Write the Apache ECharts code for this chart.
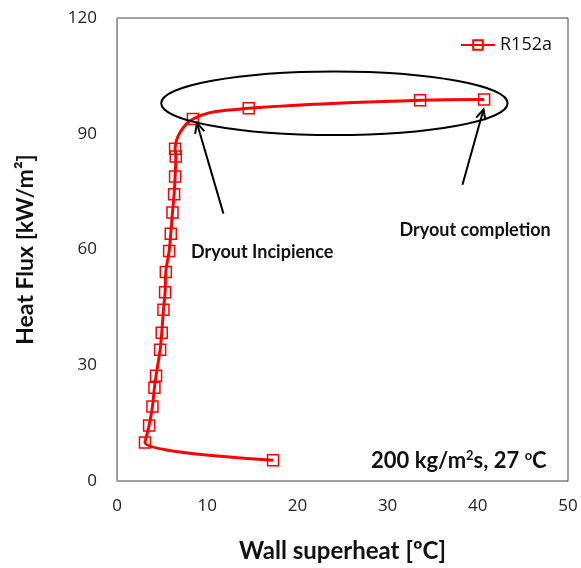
<!DOCTYPE html>
<html>
<head>
<meta charset="utf-8">
<script src="https://cdn.jsdelivr.net/npm/echarts@6/dist/echarts.min.js"></script>
<style>html,body{margin:0;padding:0;background:#fff;}#c{width:581px;height:568px;}</style>
</head>
<body>
<div id="c"></div>
<script>
// Data (wall superheat [°C], heat flux [kW/m2]) in measurement order
var superheat = [17.3, 3.1, 3.56, 3.93, 4.15, 4.33, 4.78, 4.96, 5.15, 5.33, 5.41, 5.78, 5.96, 6.15, 6.33, 6.44, 6.52, 6.44, 8.41, 14.6, 33.6, 40.7];
var heatFlux  = [5.4, 10.0, 14.4, 19.3, 24.2, 27.3, 34.0, 38.4, 44.4, 48.9, 54.2, 59.6, 64.1, 69.6, 74.3, 78.9, 84.1, 86.1, 93.8, 96.6, 98.7, 98.9];
var seriesName = 'R152a';
var xTicks = [0, 10, 20, 30, 40, 50];
var yTicks = [0, 30, 60, 90, 120];

// Annotations (in data coordinates)
var ellipseCenter = [24.1, 97.9];
var ellipseRadii = [19.2, 8.25];
var arrowIncipience = {from: [11.8, 69.3], to: [8.86, 92.8]};
var arrowCompletion = {from: [38.3, 76.8], to: [40.63, 96.3]};
var labelIncipience = {text: 'Dryout Incipience', at: [16.1, 59.4]};
var labelCompletion = {text: 'Dryout completion', at: [39.7, 65.0]};
var labelCondition = {at: [37.9, 5.2]};

var data = superheat.map(function (x, i) { return [x, heatFlux[i]]; });

var chart = echarts.init(document.getElementById('c'));
var font = 'Lato, "Open Sans", sans-serif';
var tickFont = '"Open Sans", Lato, sans-serif';

chart.setOption({
  animation: false,
  backgroundColor: '#fff',
  grid: {left: 117, right: 13, top: 18, bottom: 86, show: true, borderColor: '#444', borderWidth: 1},
  legend: {
    show: true, right: 24, top: 31, itemWidth: 34, itemHeight: 12, itemGap: 4,
    textStyle: {fontFamily: tickFont, fontSize: 18, color: '#111'},
    data: [{name: seriesName}]
  },
  xAxis: {
    type: 'value', min: xTicks[0], max: xTicks[xTicks.length - 1], interval: 10,
    name: 'Wall superheat [\u00baC]', nameLocation: 'middle', nameGap: 58,
    nameTextStyle: {fontFamily: font, fontSize: 24, fontWeight: 'bold', color: '#111'},
    axisLine: {show: true, onZero: false, lineStyle: {color: '#999', width: 1}},
    axisTick: {show: false},
    splitLine: {show: false},
    axisLabel: {fontFamily: tickFont, fontSize: 17, color: '#222', margin: 17}
  },
  yAxis: {
    type: 'value', min: yTicks[0], max: yTicks[yTicks.length - 1], interval: 30,
    name: 'Heat Flux [kW/m\u00b2]', nameLocation: 'middle', nameGap: 80, nameRotate: 90,
    nameTextStyle: {fontFamily: font, fontSize: 23, fontWeight: 'bold', color: '#111'},
    axisLine: {show: true, onZero: false, lineStyle: {color: '#999', width: 1}},
    axisTick: {show: false},
    splitLine: {show: false},
    axisLabel: {fontFamily: tickFont, fontSize: 17, color: '#222', margin: 20}
  },
  series: [{
    name: seriesName,
    type: 'line',
    data: data,
    smooth: 0.35,
    symbol: 'rect',
    symbolSize: 11,
    showAllSymbol: true,
    lineStyle: {color: '#ff0000', width: 3},
    itemStyle: {color: 'rgba(255,255,255,0)', borderColor: '#ff0000', borderWidth: 1.5},
    z: 3
  }]
});

function px(p) { return chart.convertToPixel({gridIndex: 0}, p); }
function arrow(a) {
  var s = px(a.from), e = px(a.to);
  var ang = Math.atan2(e[1] - s[1], e[0] - s[0]);
  var L = 11, w = 0.45;
  var h1 = [e[0] - L * Math.cos(ang - w), e[1] - L * Math.sin(ang - w)];
  var h2 = [e[0] - L * Math.cos(ang + w), e[1] - L * Math.sin(ang + w)];
  return [
    {type: 'line', shape: {x1: s[0], y1: s[1], x2: e[0], y2: e[1]}, style: {stroke: '#000', lineWidth: 2}, z: 10},
    {type: 'polyline', shape: {points: [h1, e, h2]}, style: {stroke: '#000', lineWidth: 2, fill: null}, z: 10}
  ];
}
var c = px(ellipseCenter);
var edge = px([ellipseCenter[0] + ellipseRadii[0], ellipseCenter[1] + ellipseRadii[1]]);
var rx = Math.abs(edge[0] - c[0]), ry = Math.abs(edge[1] - c[1]);
var pI = px(labelIncipience.at), pC = px(labelCompletion.at), pK = px(labelCondition.at);
var textStyle = {fontFamily: font, fontSize: 18, fontWeight: 'bold', fill: '#111', textAlign: 'center', textVerticalAlign: 'middle'};

var elements = [
  {type: 'ellipse', shape: {cx: c[0], cy: c[1], rx: rx, ry: ry}, style: {stroke: '#000', lineWidth: 2, fill: null}, z: 9}
].concat(arrow(arrowIncipience)).concat(arrow(arrowCompletion)).concat([
  {type: 'text', x: pI[0], y: pI[1], style: Object.assign({text: labelIncipience.text}, textStyle), z: 10},
  {type: 'text', x: pC[0], y: pC[1], style: Object.assign({text: labelCompletion.text}, textStyle), z: 10},
  {type: 'text', x: pK[0], y: pK[1], style: {
    text: '200 kg/m{s|2}s, 27 {s|o}C', fontFamily: font, fontSize: 22, fontWeight: 'bold', fill: '#111',
    align: 'center', verticalAlign: 'middle',
    rich: {s: {fontFamily: font, fontSize: 13, fontWeight: 'bold', verticalAlign: 'top', padding: [0, 0, 10, 0]}}
  }, z: 10}
]);
chart.setOption({graphic: {elements: elements}});
</script>
</body>
</html>
